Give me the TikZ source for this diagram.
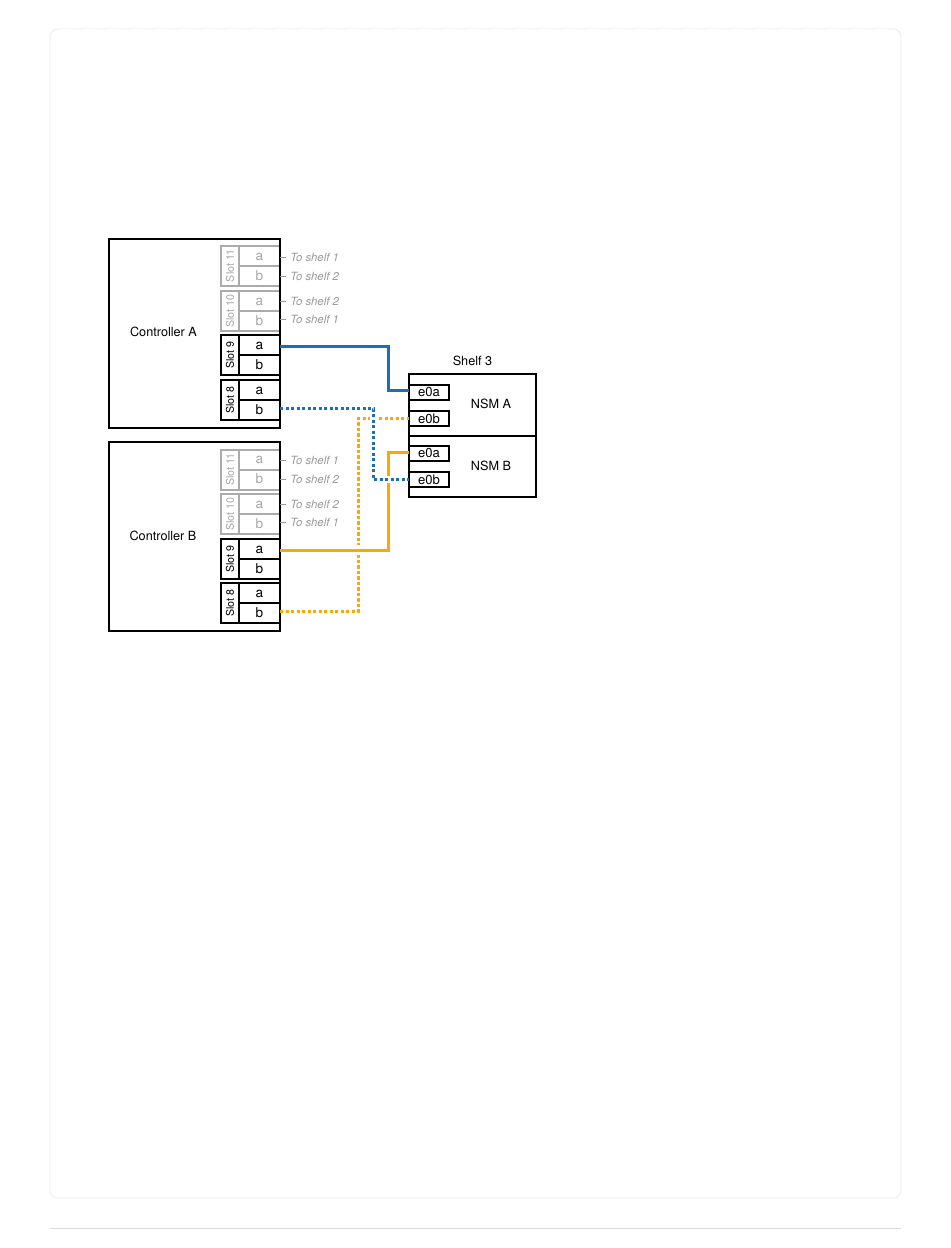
\documentclass[tikz,border=0pt]{standalone}
\usepackage{fontspec}
\setmainfont{TeX Gyre Heros}
\usetikzlibrary{positioning}
\definecolor{cableblue}{HTML}{1F6DB2}
\definecolor{cableorange}{HTML}{F9A900}
\tikzset{
	box/.style={rectangle, draw=black, line width=1.5pt, inner sep=0pt, outer sep=0pt},
	idlelbl/.style={rectangle, draw=black!33, line width=1.5pt, text=black!35, inner sep=0pt, outer sep=0pt, minimum width=13.5pt, minimum height=30pt},
	mainlbl/.style={font=\fontsize{9.5pt}{10pt}\selectfont},
	liveport/.style={box, minimum width=30.75pt, minimum height=15pt, text height=6.5pt, text depth=0pt, font=\fontsize{10.2pt}{11pt}\selectfont},
	idleport/.style={idlelbl, minimum width=30.75pt, minimum height=15pt, text height=6.5pt, text depth=0pt, font=\fontsize{10.2pt}{11pt}\selectfont},
	liveslot/.style={box, minimum width=13.5pt, minimum height=30pt, font=\fontsize{8pt}{8pt}\selectfont},
	idleslot/.style={idlelbl, font=\fontsize{8pt}{8pt}\selectfont},
	nsmport/.style={box, minimum width=30pt, minimum height=11pt, font=\fontsize{9.8pt}{10pt}\selectfont},
	toshelf/.style={text=black!40, font=\fontsize{8.5pt}{9pt}\itshape, anchor=west, inner sep=0pt},
	tick/.style={draw=black!40, line width=.6pt},
	cable/.style={line width=2.25pt},
	dotcable/.style={line width=2.25pt, dash pattern=on 2.3pt off 1.825pt},
	halo/.style={preaction={draw=white, solid, line width=#1, shorten <=4pt, shorten >=4pt}}
}
\begin{document}
\begin{tikzpicture}[x=.75pt, y=-.75pt]
	\useasboundingbox (0,0) rectangle (950,1248);
	% page frame
	\draw[black!5, line width=1pt, rounded corners=6pt] (50,29) rectangle (901,1198);
	\draw[white, line width=.4pt, dash pattern=on 9pt off 9pt] (60,29) -- (891,29);
	\draw[black!14, line width=.75pt] (50,1228) -- (901,1228);

	% controller A
	\node[idleslot, anchor=north west] (a11) at (221,246) {\rotatebox{90}{Slot 1\kern-.7pt 1}};
	\node[idleport, anchor=north west] (a11a) at (a11.north east) {a};
	\node[idleport, below=0pt of a11a] (a11b) {b};
	\node[idleslot, anchor=north west] (a10) at (221,291) {\rotatebox{90}{Slot 10}};
	\node[idleport, anchor=north west] (a10a) at (a10.north east) {a};
	\node[idleport, below=0pt of a10a] (a10b) {b};
	\node[liveslot, anchor=north west] (a9) at (221,335) {\rotatebox{90}{Slot 9}};
	\node[liveport, anchor=north west] (a9a) at (a9.north east) {a};
	\node[liveport, below=0pt of a9a] (a9b) {b};
	\node[liveslot, anchor=north west] (a8) at (221,380) {\rotatebox{90}{Slot 8}};
	\node[liveport, anchor=north west] (a8a) at (a8.north east) {a};
	\node[liveport, below=0pt of a8a] (a8b) {b};
	\node[box, minimum width=128.25pt, minimum height=141.75pt, anchor=north west] (ctrlA) at (109,239) {};
	\node[mainlbl] (ctrlAlbl) at (163.5,332) {Controller A};
	\node[toshelf] (ta1) at (290,257.5) {To shelf 1};
	\node[toshelf] (ta2) at (290,276.5) {To shelf 2};
	\node[toshelf] (ta3) at (290,301.5) {To shelf 2};
	\node[toshelf] (ta4) at (290,319) {To shelf 1};

	% controller B
	\node[idleslot, anchor=north west] (b11) at (221,449.5) {\rotatebox{90}{Slot 1\kern-.7pt 1}};
	\node[idleport, anchor=north west] (b11a) at (b11.north east) {a};
	\node[idleport, below=0pt of b11a] (b11b) {b};
	\node[idleslot, anchor=north west] (b10) at (221,494) {\rotatebox{90}{Slot 10}};
	\node[idleport, anchor=north west] (b10a) at (b10.north east) {a};
	\node[idleport, below=0pt of b10a] (b10b) {b};
	\node[liveslot, anchor=north west] (b9) at (221,539) {\rotatebox{90}{Slot 9}};
	\node[liveport, anchor=north west] (b9a) at (b9.north east) {a};
	\node[liveport, below=0pt of b9a] (b9b) {b};
	\node[liveslot, anchor=north west] (b8) at (221,583) {\rotatebox{90}{Slot 8}};
	\node[liveport, anchor=north west] (b8a) at (b8.north east) {a};
	\node[liveport, below=0pt of b8a] (b8b) {b};
	\node[box, minimum width=128.25pt, minimum height=141.75pt, anchor=north west] (ctrlB) at (109,442) {};
	\node[mainlbl] (ctrlBlbl) at (163,535.5) {Controller B};
	\node[toshelf] (tb1) at (290,460.5) {To shelf 1};
	\node[toshelf] (tb2) at (290,479.5) {To shelf 2};
	\node[toshelf] (tb3) at (290,504.5) {To shelf 2};
	\node[toshelf] (tb4) at (290,522) {To shelf 1};

	% ticks
	\foreach \t in {ta1,ta2,ta3,ta4,tb1,tb2,tb3,tb4}
		\draw[tick] (\t.west) ++(-10,0) -- ++(6,0);

	% shelf 3
	\node[box, minimum width=95.25pt, minimum height=46.5pt, anchor=north west] (nsmA) at (409,374) {};
	\node[box, minimum width=95.25pt, minimum height=45.75pt, below=0pt of nsmA] (nsmB) {};
	\node[mainlbl, above=3pt of nsmA] (shelf) {Shelf 3};
	\node[mainlbl] (nsmAlbl) at (491,404) {NSM A};
	\node[mainlbl] (nsmBlbl) at (491,466) {NSM B};
	\node[nsmport, anchor=north west] (ae0a) at (409,385) {e0a};
	\node[nsmport, anchor=north west] (ae0b) at (409,411) {e0b};
	\node[nsmport, anchor=north west] (be0a) at (409,446) {e0a};
	\node[nsmport, anchor=north west] (be0b) at (409,472) {e0b};

	% cables
	\coordinate (blueout) at (280,346.5);
	\coordinate (bluein) at (409,390.5);
	\coordinate (blueturn) at (388,346.5);
	\coordinate (dotblueout) at (280,408.5);
	\coordinate (dotblueturn) at (373.5,408.5);
	\coordinate (dotbluein) at (409,479.5);
	\coordinate (orangeout) at (280,550);
	\coordinate (orangein) at (409,452.5);
	\coordinate (dotorangeout) at (280,611);
	\coordinate (dotorangein) at (409,418.5);
	\draw[cable, cableblue] (blueout) -- (blueturn) |- (bluein);
	\draw[dotcable, cableorange] (dotorangeout) -| (358.5,418.5) -- (dotorangein);
	\draw[cable, cableorange, halo=8pt] (orangeout) -| (388,452.5) -- (orangein);
	\draw[dotcable, cableblue, halo=5.25pt] (dotblueout) -- (dotblueturn) |- (dotbluein);
\end{tikzpicture}
\end{document}
